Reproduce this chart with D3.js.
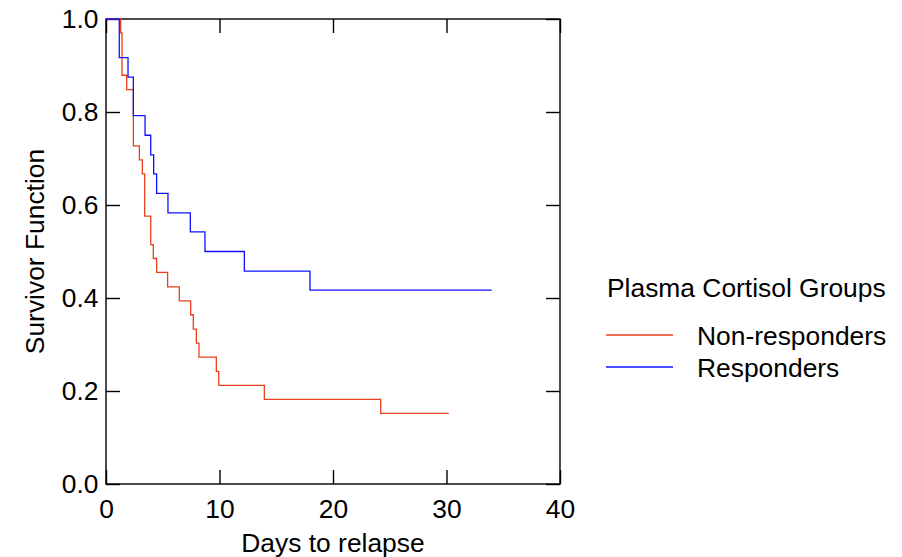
<!DOCTYPE html>
<html>
<head>
<meta charset="utf-8">
<script src="https://cdn.jsdelivr.net/npm/d3@7"></script>
<style>
  body { margin: 0; background: #fff; }
  svg text { font-family: "Liberation Sans", Arial, sans-serif; fill: #000; }
</style>
</head>
<body>
<svg id="chart" width="902" height="557"></svg>
<script>
// Kaplan-Meier steps (days, survivor function)
var groupNames = ["Non-responders", "Responders"];
var groupColors = ["#e8401c", "#1010ff"];

var nonRespTimes = [0, 1.29, 1.41, 1.82, 2.41, 2.94, 3.2, 3.41, 3.94, 4.17, 4.46,
    5.43, 6.46, 7.46, 7.69, 7.96, 8.19, 9.72, 9.93, 13.95, 24.2, 30.2];
var nonRespSurv = [1.0, 0.970, 0.879, 0.848, 0.727, 0.697, 0.667, 0.576, 0.515, 0.485, 0.455,
    0.424, 0.394, 0.364, 0.333, 0.303, 0.273, 0.242, 0.212, 0.182, 0.152, 0.152];

var respTimes = [0, 1.17, 1.94, 2.41, 3.44, 3.94, 4.2, 4.46, 5.46, 7.43, 8.72,
    12.19, 17.97, 33.98];
var respSurv = [1.0, 0.917, 0.875, 0.792, 0.750, 0.708, 0.667, 0.625, 0.583, 0.542, 0.500,
    0.458, 0.417, 0.417];

var xTicks = [0, 10, 20, 30, 40];
var yTicks = [0, 0.2, 0.4, 0.6, 0.8, 1.0];

var xTitle = "Days to relapse";
var yTitle = "Survivor Function";
var legendTitle = "Plasma Cortisol Groups";

var fontSize = 26.4;

var svg = d3.select("#chart");
var margin = {left: 106, right: 342, top: 19, bottom: 73};
var width = 902 - margin.left - margin.right,
    height = 557 - margin.top - margin.bottom;

var x = d3.scaleLinear().domain([0, 40]).range([margin.left, margin.left + width]);
var y = d3.scaleLinear().domain([0, 1]).range([margin.top + height, margin.top]);

var tickLen = 14;

function styleAxis(g) {
    g.select(".domain").remove();
    g.selectAll(".tick line").attr("stroke", "#000").attr("stroke-width", 1.4);
    g.selectAll(".tick text").style("font-size", fontSize + "px").attr("fill", "#000");
}

// bottom axis with labels
var xAxis = svg.append("g")
    .attr("transform", "translate(0," + y(0) + ")")
    .call(d3.axisBottom(x).tickValues(xTicks).tickSize(-tickLen).tickPadding(15.5).tickFormat(d3.format("d")));
styleAxis(xAxis);

// top axis, ticks only
var xTop = svg.append("g")
    .attr("transform", "translate(0," + y(1) + ")")
    .call(d3.axisTop(x).tickValues(xTicks).tickSize(-tickLen).tickFormat(""));
styleAxis(xTop);

var yAxis = svg.append("g")
    .attr("transform", "translate(" + x(0) + ",0)")
    .call(d3.axisLeft(y).tickValues(yTicks).tickSize(-tickLen).tickPadding(7.5).tickFormat(d3.format(".1f")));
styleAxis(yAxis);

var yRight = svg.append("g")
    .attr("transform", "translate(" + x(40) + ",0)")
    .call(d3.axisRight(y).tickValues(yTicks).tickSize(-tickLen).tickFormat(""));
styleAxis(yRight);

// frame
svg.append("rect")
    .attr("x", x(0))
    .attr("y", y(1))
    .attr("width", x(40) - x(0))
    .attr("height", y(0) - y(1))
    .attr("fill", "none")
    .attr("stroke", "#000")
    .attr("stroke-width", 1.4);

// survival curves
var series = [
    {name: groupNames[0], color: groupColors[0], t: nonRespTimes, s: nonRespSurv},
    {name: groupNames[1], color: groupColors[1], t: respTimes, s: respSurv}
];

var line = d3.line()
    .x(function(d) { return x(d[0]); })
    .y(function(d) { return y(d[1]); })
    .curve(d3.curveStepAfter);

series.forEach(function(sr) {
    var pts = sr.t.map(function(t, i) { return [t, sr.s[i]]; });
    svg.append("path")
        .datum(pts)
        .attr("d", line)
        .attr("fill", "none")
        .attr("stroke", sr.color)
        .attr("stroke-width", 1.3);
});

// axis titles
svg.append("text")
    .attr("x", (x(0) + x(40)) / 2)
    .attr("y", 551.5)
    .attr("text-anchor", "middle")
    .style("font-size", fontSize + "px")
    .text(xTitle);

svg.append("text")
    .attr("transform", "translate(44," + ((y(0) + y(1)) / 2) + ") rotate(-90)")
    .attr("text-anchor", "middle")
    .style("font-size", fontSize + "px")
    .text(yTitle);

// legend
var legend = svg.append("g");
legend.append("text")
    .attr("x", 607)
    .attr("y", 297)
    .style("font-size", fontSize + "px")
    .text(legendTitle);

var legendY = [335, 367];
series.forEach(function(sr, i) {
    legend.append("line")
        .attr("x1", 606).attr("x2", 673)
        .attr("y1", legendY[i]).attr("y2", legendY[i])
        .attr("stroke", sr.color)
        .attr("stroke-width", 1.3);
    legend.append("text")
        .attr("x", 697)
        .attr("y", legendY[i] + 10)
        .style("font-size", fontSize + "px")
        .text(sr.name);
});
</script>
</body>
</html>
